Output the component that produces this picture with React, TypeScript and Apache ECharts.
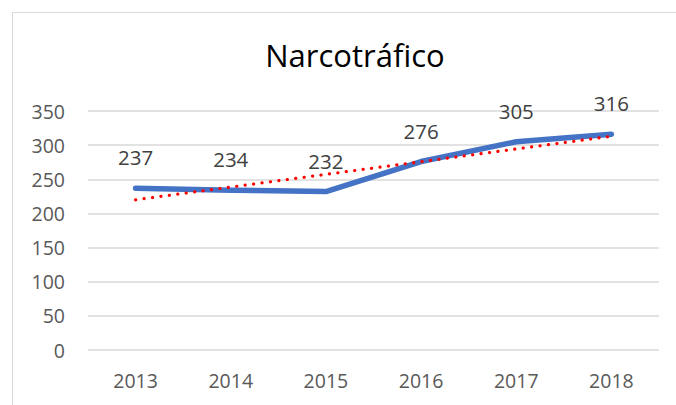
import React, { useEffect, useRef } from "react";
import * as echarts from "echarts";

const titleText = "Narcotráfico";
const years = ["2013", "2014", "2015", "2016", "2017", "2018"];
const values = [237, 234, 232, 276, 305, 316];
// linear trendline read at first and last category
const trendValues = [220, null, null, null, null, 313];
const yTicks = { min: 0, max: 350, interval: 50 };

export default function App() {
  const ref = useRef<HTMLDivElement>(null);
  useEffect(() => {
    document.body.style.margin = "0";
    const chart = echarts.init(ref.current!, null, { renderer: "svg" });
    const font = "'Open Sans', 'Noto Sans', sans-serif";
    chart.setOption({
      animation: false,
      backgroundColor: "#ffffff",
      title: {
        text: titleText,
        left: 350,
        top: 34,
        textAlign: "center",
        textStyle: { fontFamily: font, fontSize: 31, fontWeight: "normal", color: "#000000" },
      },
      graphic: [
        { type: "line", shape: { x1: 12, y1: 12.5, x2: 676, y2: 12.5 }, style: { stroke: "#d9d9d9", lineWidth: 1 } },
        { type: "line", shape: { x1: 12.5, y1: 12, x2: 12.5, y2: 405 }, style: { stroke: "#d9d9d9", lineWidth: 1 } },
      ],
      grid: { left: 88, right: 17, top: 111, bottom: 55, containLabel: false },
      xAxis: {
        type: "category",
        data: years,
        boundaryGap: true,
        axisLine: { show: false },
        axisTick: { show: false },
        axisLabel: { fontFamily: font, fontSize: 19.5, color: "#595959", margin: 20 },
      },
      yAxis: {
        type: "value",
        min: yTicks.min,
        max: yTicks.max,
        interval: yTicks.interval,
        axisLine: { show: false },
        axisTick: { show: false },
        splitLine: { lineStyle: { color: "#d9d9d9", width: 1.5 } },
        axisLabel: { fontFamily: font, fontSize: 19.5, color: "#595959", margin: 23 },
      },
      series: [
        {
          type: "line",
          data: values,
          symbol: "circle",
          symbolSize: 1,
          showSymbol: true,
          itemStyle: { color: "#4472C4", opacity: 0 },
          lineStyle: { color: "#4472C4", width: 5.5, cap: "round", join: "round" },
          label: {
            show: true,
            position: "top",
            distance: 20,
            fontFamily: font,
            fontSize: 20.5,
            color: "#404040",
            opacity: 1,
          },
          labelLayout: { hideOverlap: false },
          z: 2,
        },
        {
          type: "line",
          data: trendValues,
          connectNulls: true,
          symbol: "none",
          lineStyle: { color: "#ff0000", width: 3.2, type: [0.1, 8.4], cap: "round" },
          z: 3,
        },
      ],
    });
    return () => chart.dispose();
  }, []);
  return <div ref={ref} style={{ width: 676, height: 405 }} />;
}
